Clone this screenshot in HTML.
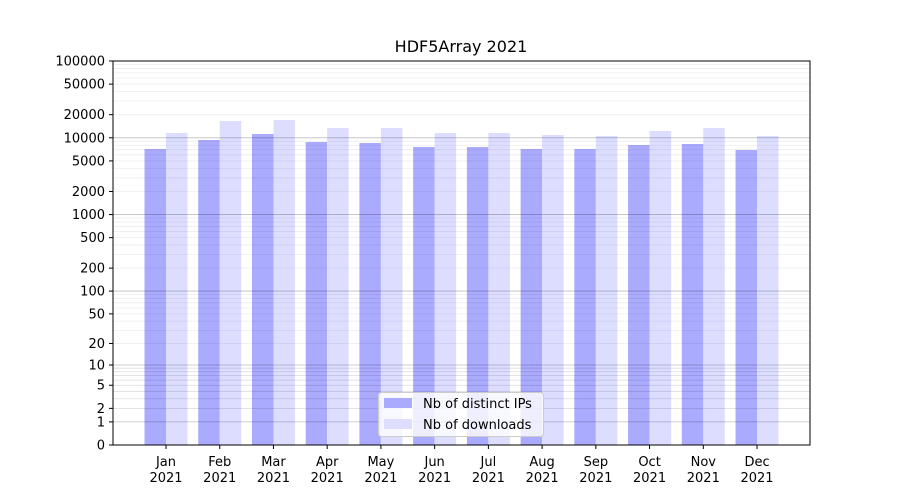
<!DOCTYPE html>
<html><head><meta charset="utf-8"><style>body{margin:0;background:#fff}svg{display:block;font-family:"DejaVu Sans","Liberation Sans",sans-serif}</style></head>
<body><svg id="s" width="900" height="500" xmlns="http://www.w3.org/2000/svg"></svg>
<script>
const s=document.getElementById('s');let h='';
const Y=v=>445-76.8*Math.log10(1+v);
const ip=[149,140,134,142,143,147,147,149,149,145,144,150],dl=[133,121,120,128,128,133,133,135,136,131,128,136];
const mo=['Jan','Feb','Mar','Apr','May','Jun','Jul','Aug','Sep','Oct','Nov','Dec'];
for(let i=0;i<12;i++){const c=166+i*53.73;
h+=`<rect x="${c-21.5}" y="${ip[i]}" width="21.5" height="${445-ip[i]}" fill="#aaaaff"/>`;
h+=`<rect x="${c}" y="${dl[i]}" width="21.5" height="${445-dl[i]}" fill="#ddddff"/>`;
h+=`<line x1="${c}" x2="${c}" y1="445" y2="449" stroke="#000"/>`;
h+=`<text x="${c}" y="466" font-size="13" text-anchor="middle">${mo[i]}</text><text x="${c}" y="482" font-size="13" text-anchor="middle">2021</text>`;}
for(let d=1;d<=10000;d*=10)for(let m=2;m<=9;m++){const y=Y(m*d);h+=`<line x1="113" x2="810" y1="${y}" y2="${y}" stroke="#000" stroke-opacity="0.07" stroke-width="0.8"/>`;}
for(let m=2;m<=9;m++){const y=Y(m);h+=`<line x1="113" x2="810" y1="${y}" y2="${y}" stroke="#000" stroke-opacity="0.07" stroke-width="0.8"/>`;}
for(let d=1;d<=100000;d*=10){const y=Y(d);h+=`<line x1="113" x2="810" y1="${y}" y2="${y}" stroke="#000" stroke-opacity="0.25" stroke-width="0.8"/>`;}
[0,1,2,5,10,20,50,100,200,500,1000,2000,5000,10000,20000,50000,100000].forEach(v=>{const y=Y(v);
h+=`<line x1="109" x2="113" y1="${y}" y2="${y}" stroke="#000"/><text x="105" y="${y+4.5}" font-size="13" text-anchor="end">${v}</text>`;});
h+=`<rect x="113" y="61" width="697" height="384" fill="none" stroke="#000" stroke-width="1"/>`;
h+=`<text x="461" y="52" font-size="16" text-anchor="middle">HDF5Array 2021</text>`;
h+=`<rect x="378.5" y="392.5" width="165" height="44" rx="3" fill="#fff" fill-opacity="0.8" stroke="#ccc"/>`;
h+=`<rect x="384" y="398" width="28" height="10" fill="#aaaaff"/><text x="423" y="408" font-size="13">Nb of distinct IPs</text>`;
h+=`<rect x="384" y="419" width="28" height="10" fill="#ddddff"/><text x="423" y="429" font-size="13">Nb of downloads</text>`;
s.innerHTML=h;
</script></body></html>
